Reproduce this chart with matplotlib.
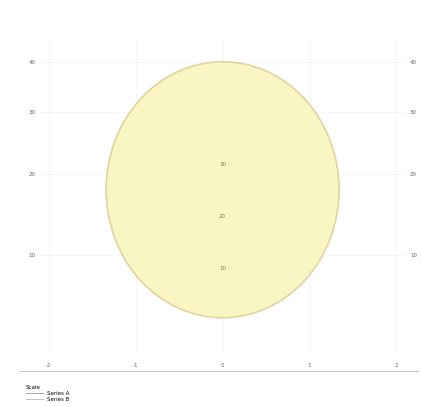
import matplotlib
matplotlib.use("Agg")
import matplotlib.pyplot as plt
from matplotlib.patches import Ellipse
from matplotlib.lines import Line2D

# ---- data ----
x_ticks = [-2, -1, 0, 1, 2]
x_tick_labels = ["-2", "-1", "0", "1", "2"]
y_ticks = [3.1, 5.7, 7.7, 9.3]
y_tick_labels = ["10", "20", "30", "40"]
ellipse_center = (0.0, 5.2)
ellipse_width = 2.68
ellipse_height = 8.2
inner_label_y = [6.0, 4.33, 2.69]
inner_labels = ["30", "20", "10"]
legend_title = "Scale"
legend_labels = ["Series A", "Series B"]

fig = plt.figure(figsize=(4.22, 4.07), dpi=100)
ax = fig.add_axes([0.095, 0.135, 0.865, 0.767])
ax.set_xlim(-2.1, 2.1)
ax.set_ylim(0, 10)

ax.add_patch(Ellipse(ellipse_center, ellipse_width, ellipse_height,
                     facecolor="#faf6c4", edgecolor="#e3d3a0", linewidth=1.2, zorder=2))
for yv, lab in zip(inner_label_y, inner_labels):
    ax.text(0, yv, lab, fontsize=4, color="#7a7550", ha="center", va="center", zorder=3)

ax.set_xticks(x_ticks)
ax.set_xticklabels(x_tick_labels)
ax.set_yticks(y_ticks)
ax.set_yticklabels(y_tick_labels)
ax.tick_params(axis="both", length=0, labelsize=4, colors="#666666")
ax.tick_params(axis="x", pad=8)
ax.tick_params(axis="y", labelleft=True, labelright=True)
ax.grid(True, color="#f4f4f4", linewidth=0.6, zorder=0)
for s in ax.spines.values():
    s.set_visible(False)

# legend separator line
fig.add_artist(Line2D([0.045, 0.99], [1 - 371/407, 1 - 371/407], color="#cccccc", linewidth=0.8))
handles = [Line2D([], [], color="#999999", linewidth=0.6),
           Line2D([], [], color="#bbbbbb", linewidth=0.6)]
fig.legend(handles, legend_labels, title=legend_title, loc="lower left",
           bbox_to_anchor=(0.05, 0.0), frameon=False, fontsize=4, title_fontsize=4,
           handlelength=3, labelspacing=0.2, alignment="left")

fig.savefig("out.png", dpi=100, facecolor="white")
